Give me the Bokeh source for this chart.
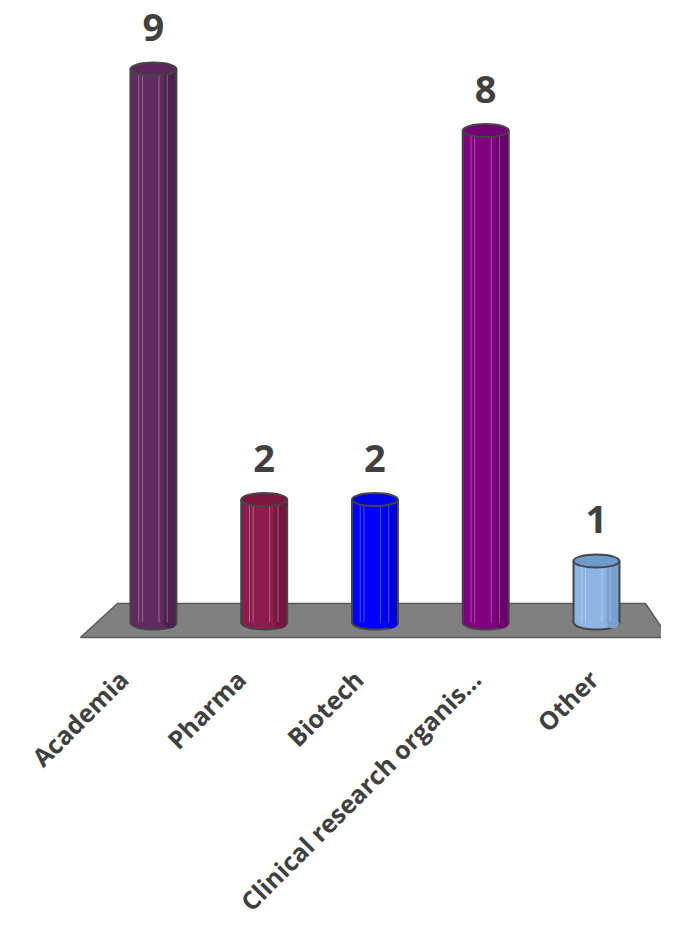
from math import pi
from bokeh.plotting import figure
from bokeh.models import ColumnDataSource, Range1d, LabelSet
from bokeh.core.properties import value
from bokeh.transform import dodge
from bokeh.embed import file_html
from bokeh.resources import INLINE

categories = ["Academia", "Pharma", "Biotech", "Clinical research organis...", "Other"]
counts = [9, 2, 2, 8, 1]
bar_colors = ["#612B60", "#8C1C4C", "#0000FF", "#800080", "#8DB4E2"]
shade_colors = ["#4E2250", "#76163F", "#0000DC", "#6C006C", "#79A1D0"]
cap_colors = ["#5A2758", "#7A1842", "#0000E6", "#730073", "#6F9BCC"]

src = ColumnDataSource(dict(
    x=list(range(len(categories))),
    top=counts,
    base=[0] * len(counts),
    cat=categories,
    label=[str(c) for c in counts],
    color=bar_colors,
    shade=shade_colors,
    cap=cap_colors,
))

H = 932
p = figure(width=661, height=H, output_backend="svg", toolbar_location=None,
           x_range=Range1d(-1.381, 4.587), y_range=Range1d((622 - H) / 61.5, 10.114),
           x_axis_location=None, y_axis_location=None, min_border=0)
p.grid.visible = False
p.outline_line_color = None
p.extra_x_ranges = {"lab": Range1d(-1.045, 4.58)}

# floor
p.patch(x=[-0.325, 4.442, 4.65, -0.659], y=[0.309, 0.309, -0.244, -0.244],
        fill_color="#808080", line_color="#5A5A5A", line_width=1.5)

W = 0.415
OUT = "#454545"
# bottom of cylinder
p.ellipse(x="x", y="base", width=W, height=14, height_units="screen", source=src,
          fill_color="color", line_color=OUT, line_width=2)
# body
p.vbar(x="x", top="top", bottom="base", width=W, source=src, fill_color="color", line_color=None)
p.vbar(x=dodge("x", W * 0.36, range=p.x_range), top="top", bottom="base", width=W * 0.28,
       source=src, fill_color="shade", line_color=None)
p.ellipse(x=dodge("x", W * 0.36, range=p.x_range), y="base", width=W * 0.28, height=12,
          height_units="screen", source=src, fill_color="shade", line_color=None)
# highlight lines
for off in (-0.32, -0.24, 0.12, 0.3):
    xd = dodge("x", W * off, range=p.x_range)
    p.segment(x0=xd, y0="base", x1=xd, y1="top", source=src,
              line_color="white", line_alpha=0.3, line_width=1)
# side outlines
for off in (-0.5, 0.5):
    xd = dodge("x", W * off, range=p.x_range)
    p.segment(x0=xd, y0="base", x1=xd, y1="top", source=src, line_color=OUT, line_width=2)
# cap
p.ellipse(x="x", y="top", width=W, height=13, height_units="screen", source=src,
          fill_color="cap", line_color=OUT, line_width=2)

labels = LabelSet(x="x", y="top", text="label", source=src, y_offset=28,
                  text_align="center", text_baseline="alphabetic",
                  text_font=value("Open Sans"), text_font_size="38px",
                  text_font_style="bold", text_color="#404040")
p.add_layout(labels)

p.text(x="x", y=(622 - 674) / 61.5, text="cat", source=src, x_range_name="lab", angle=pi / 4,
       text_align="right", text_baseline="middle", text_font=value("Open Sans"),
       text_font_size="25px", text_font_style="bold", text_color="#404040")

open("out.html", "w").write(file_html(p, INLINE))
